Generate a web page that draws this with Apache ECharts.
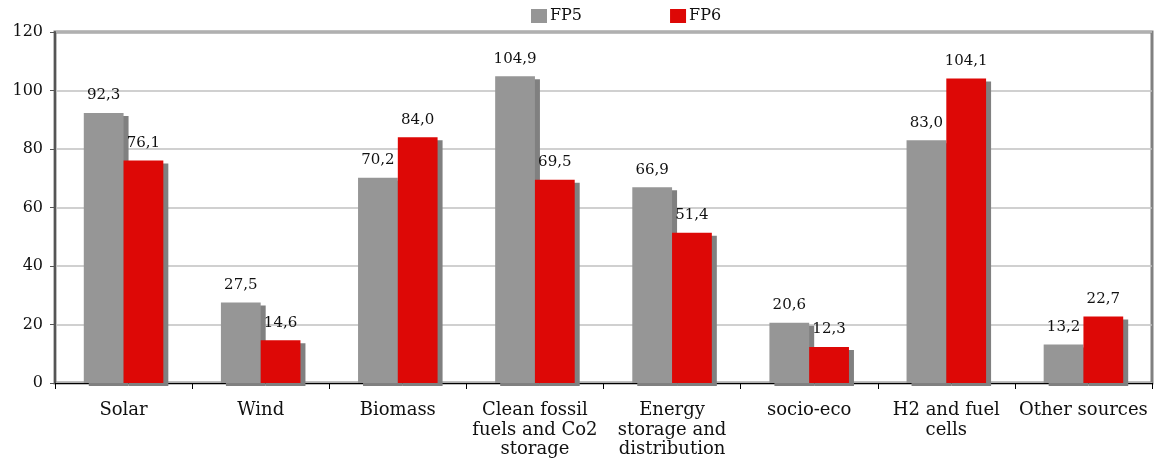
<!DOCTYPE html>
<html>
<head>
<meta charset="utf-8">
<title>FP5 vs FP6</title>
<script src="https://cdn.jsdelivr.net/npm/echarts@6/dist/echarts.min.js"></script>
<style>
  html, body { margin: 0; padding: 0; background: #fff; }
  #chart { width: 1165px; height: 469px; }
</style>
</head>
<body>
<div id="chart"></div>
<script>
// Funding per energy theme, two framework programmes
const categories = [
  'Solar',
  'Wind',
  'Biomass',
  'Clean fossil\nfuels and Co2\nstorage',
  'Energy\nstorage and\ndistribution',
  'socio-eco',
  'H2 and fuel\ncells',
  'Other sources'
];
const seriesNames = ['FP5', 'FP6'];
const fp5Values = [92.3, 27.5, 70.2, 104.9, 66.9, 20.6, 83.0, 13.2];
const fp6Values = [76.1, 14.6, 84.0, 69.5, 51.4, 12.3, 104.1, 22.7];

const FONT = 'DejaVu Serif';
const fmt = v => v.toFixed(1).replace('.', ',');

const chart = echarts.init(document.getElementById('chart'), null, { renderer: 'canvas' });

function barSeries(name, data, color) {
  return {
    name: name,
    type: 'bar',
    data: data,
    barGap: '0%',
    barCategoryGap: '42%',
    itemStyle: {
      color: color,
      shadowColor: '#808080',
      shadowBlur: 0,
      shadowOffsetX: 5,
      shadowOffsetY: 3
    },
    label: {
      show: true,
      position: 'top',
      distance: 10,
      fontFamily: FONT,
      fontSize: 15,
      color: '#111',
      formatter: p => fmt(p.value)
    }
  };
}

chart.setOption({
  animation: false,
  backgroundColor: '#fff',
  legend: {
    top: 3,
    left: 526,
    itemWidth: 16,
    itemHeight: 14,
    itemGap: 88,
    icon: 'rect',
    textStyle: { fontFamily: FONT, fontSize: 16, color: '#111', padding: [0, 0, 0, -2] },
    data: seriesNames
  },
  grid: {
    left: 55,
    right: 13,
    top: 32,
    bottom: 86,
    show: true,
    borderColor: '#808080',
    borderWidth: 3,
    backgroundColor: 'transparent'
  },
  xAxis: {
    type: 'category',
    data: categories,
    axisLine: { lineStyle: { color: '#000', width: 1 } },
    axisTick: { show: true, length: 6, lineStyle: { color: '#000' } },
    axisLabel: {
      interval: 0,
      margin: 18,
      fontFamily: FONT,
      fontSize: 18,
      lineHeight: 19.5,
      color: '#111'
    }
  },
  yAxis: {
    type: 'value',
    min: 0,
    max: 120,
    interval: 20,
    axisLine: { show: true, lineStyle: { color: '#555', width: 2 } },
    axisTick: { show: true, length: 5, lineStyle: { color: '#555' } },
    axisLabel: { fontFamily: FONT, fontSize: 16, color: '#111', margin: 12 },
    splitLine: { show: true, lineStyle: { color: '#c0c0c0', width: 1.5 } }
  },
  series: [
    barSeries(seriesNames[0], fp5Values, '#969696'),
    barSeries(seriesNames[1], fp6Values, '#dd0806')
  ]
});
</script>
</body>
</html>
